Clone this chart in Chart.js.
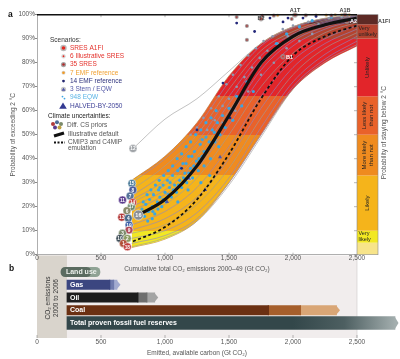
<!DOCTYPE html>
<html><head><meta charset="utf-8">
<script src="https://cdn.jsdelivr.net/npm/chart.js@4.4.1/dist/chart.umd.min.js"></script>
<style>
html,body{margin:0;padding:0;background:#fff;overflow:hidden;}
#wrap{position:relative;width:400px;height:359px;}
canvas{position:absolute;left:0;top:0;}
</style></head><body>
<div id="wrap"><canvas id="cb" width="400" height="359"></canvas><canvas id="ca" width="400" height="275"></canvas></div>
<script>
// ---------------- DATA (panel a) ----------------
const gridGt = [740, 1000, 1250, 1500, 1750, 2000, 2250, 2500];
const bandUpperP = [31, 41, 55, 74.5, 88, 95, 98.5, 99.8];
const bandLowerP = [3, 6.5, 14, 30, 50, 69, 80, 87];
const priorCurves = [
  [30, 40, 53, 72, 87, 94.5, 98, 99.5],
  [27, 37, 50, 69, 85, 93, 97.5, 99.3],
  [24.5, 34, 47, 66, 83, 92, 97, 99],
  [22.8, 31, 44, 63, 81, 91, 96.5, 98.8],
  [21.7, 29, 41, 60, 79, 90, 96, 98.5],
  [20, 27, 39, 57, 77, 89, 95, 98.2],
  [18.3, 25, 36, 54, 74, 87, 94, 97.8],
  [15.2, 21, 32, 50, 70, 84, 92.5, 96.8],
  [12.4, 18, 28, 45, 66, 81, 90, 95.5],
  [10.3, 15, 24, 40, 61, 78, 88, 94],
  [8.9, 12.5, 21, 36, 57, 75, 86, 92.5],
  [6.8, 10, 17.5, 32, 53, 72, 83.5, 91],
  [4.7, 8, 15, 30, 50, 70, 81.5, 89],
  [3.3, 7, 14, 29, 49, 69, 80.5, 87.5]
];
const prior12Gt = [750, 1000, 1250, 1500, 1750, 2000, 2250, 2500];
const prior12P = [44.2, 56.5, 65, 76.5, 88, 95, 98.5, 99.7];
const defaultGt = [790, 1000, 1250, 1500, 1750, 2000, 2250, 2500];
const illustrativeDefaultP = [16.5, 23, 37, 58, 80, 91, 95.8, 98.6];
const emulationGt = [750, 1000, 1250, 1500, 1750, 2000, 2250, 2500];
const cmip3EmulationP = [5.5, 11.5, 23, 42, 65, 83, 91, 95.5];
const eqw948 = [[800,17],[820,19],[840,16],[850,21],[870,18],[880,23],[900,20],[910,25],[920,17],[940,22],[950,27],[960,24],[975,20],[985,29],[1000,26],[1010,22],[1020,31],[1035,28],[1050,24],[1060,33],[1075,29],[1090,26],[1100,35],[1115,31],[1130,28],[1140,38],[1155,34],[1170,30],[1185,41],[1200,36],[1215,32],[1230,43],[1245,39],[1260,35],[1275,46],[1290,41],[1305,37],[1320,49],[1340,44],[1355,40],[1370,52],[1390,47],[1410,55],[1430,50],[1450,58],[1470,53],[1500,61],[1530,56],[1560,66],[1600,62],[1640,72],[1690,68],[1740,79],[1800,83],[1870,88],[1950,92],[2050,95],[2150,97.5],[2300,99],[1180,27],[1100,22],[1350,33],[900,15],[1280,30],
  [830,22],[860,25],[890,27],[925,29],[955,31],[990,33],[1025,35],[1060,37],[1095,40],[1130,42],[1165,45],[1200,47],[1240,50],[1280,52],[1320,55],[1360,57],[1400,60],[865,14],[905,18],[945,19],[985,23],[1025,25],[1065,27],[1105,29],[1145,32],[1185,34],[1225,37],[1265,40],[1305,43],[1345,47],[1385,51],[1420,45],[1120,36],[1040,30],[960,28],[1210,41],[1290,48],[1165,38]];
const otherScenarioDots = [[1200,50],[1250,53],[1300,57],[1330,52],[1360,61],[1390,56],[1420,66],[1450,62],[1480,71],[1500,65],[1530,75],[1560,70],[1590,79],[1620,74],[1650,83],[1680,78],[1710,86],[1740,82],[1770,89],[1800,85],[1840,91],[1880,88],[1920,94],[1960,91],[2000,95.5],[2060,93],[2120,97],[2200,96],[2280,98.5],[2380,99],[1400,48],[1450,55],[1550,60],[1650,68],[1750,75],[1850,80],[1950,86],[2050,89],[2150,92]];
const emf14 = [[1453,71.5],[1508,57],[1820,84],[1700,93],[1560,96.5],[1820,98.6],[1922,97],[1961,98.6],[2078,98.6],[1250,52],[1130,36],[2180,99.3]];
const emf7 = [[1880,99.7],[2016,100],[2180,99.8],[2260,99.8],[2330,99.9],[2380,99.9],[2440,99.9]];
const stern3 = [[1016,22],[1313,27],[1430,40.7]];
const halvedBy2050 = [[1180,32]];
const sres35 = [[1640,95.3],[1640,89.5],[1560,99],[1760,99.5],[1850,99.6],[2100,99.7],[2300,99.6],[1990,98.2]];
const sresNames = ['B1','B2','A1T','A1B','A2','A1FI'];
const sresGt = [1922, 1750, 2016, 2406, 2422, 2703];
const sresP = [82.5, 98.3, 99.9, 99.9, 97.3, 99.8];
const circleIds = ['15','8','7','11','14','17','6','16','13','4','19','9','3','10','2','1','18','12'];
const circleGt = [741, 749, 727, 668, 747, 737, 703, 792, 662, 713, 719, 719, 668, 648, 706, 675, 706, 750];
const circleP = [29.7, 27, 24.5, 22.8, 21.7, 20, 18.3, 16.5, 15.6, 15.2, 12.4, 10.3, 8.9, 6.8, 6.8, 4.7, 3.3, 44.2];
const likelihoodEdges = [0, 5, 10, 33, 50, 66, 90, 96, 100];
const likelihoodNames = ['', 'Very likely', 'Likely', 'More likely than not', 'Less likely than not', 'Unlikely', 'Very unlikely', ''];
const legendScenarios = ['SRES A1FI','6 Illustrative SRES','35 SRES','7 EMF reference','14 EMF reference','3 Stern / EQW','948 EQW','HALVED-BY-2050'];
const legendClimate = ['Diff. CS priors','Illustrative default','CMIP3 and C4MIP','emulation'];
// ---------------- DATA (panel b) ----------------
const barCats = ['Land use','Gas','Oil','Coal','Total proven fossil fuel reserves'];
const barDark = [[187,420],[234,570],[234,790],[234,1810],null];
const barMid = [null,[565,600],[785,860],[1805,2060],null];
const barLight = [[380,492],[595,625],[855,920],[2055,2340],null];
const barTotal = [null,null,null,null,[234,2797]];
const emitted2000to2006 = 234;

// ---------------- STYLE ----------------
const FONT = '"Liberation Sans", Arial, sans-serif';
Chart.defaults.font.family = FONT;
Chart.defaults.font.size = 6.5;
Chart.defaults.color = '#555';
const likelihoodColors = ['#f7e48a','#f2e823','#f5b41b','#ef8b1f','#e9622a','#e2252a','#b4432f','#5d2a25'];
const bandFill = ['#f3e31f','#f2e823','#f5b41b','#ef8b1f','#e9622a','#e2252a','#b4432f','#6a2a24'];
const circleColors = ['#4d7c99','#4a5c9c','#56739a','#5b3c8e','#c23a3a','#6f8b6f','#8a8a6a','#8a8f95','#b33838','#4a6a8a','#3d5fa6','#b04a5a','#7a8a6a','#3e4d57','#8a9a60','#b0503a','#c03c3c','#a0a4a8'];

const xy = (gx, py) => gx.map((g,i)=>({x:g,y:py[i]}));
const pr = arr => arr.map(p=>({x:p[0],y:p[1]}));

function bandGradient(c){
  const ch=c.chart;
  if(!ch.chartArea || !ch.scales.y) return 'rgba(0,0,0,0)';
  const ys=ch.scales.y, top=ys.getPixelForValue(100), bot=ys.getPixelForValue(0);
  const g=ch.ctx.createLinearGradient(0,top,0,bot);
  for(let i=bandFill.length-1;i>=0;i--){
    const o1=(ys.getPixelForValue(likelihoodEdges[i+1])-top)/(bot-top);
    const o0=(ys.getPixelForValue(likelihoodEdges[i])-top)/(bot-top);
    g.addColorStop(Math.max(0,Math.min(1,o1)), bandFill[i]);
    g.addColorStop(Math.max(0,Math.min(1,o0)), bandFill[i]);
  }
  return g;
}

const lineBase = {pointRadius:0, fill:false, cubicInterpolationMode:'monotone'};
const dsA = [];
dsA.push({...lineBase, label:'band lower', data:xy(gridGt,bandLowerP), borderColor:'#b97a45', borderWidth:0.7, order:30});
dsA.push({...lineBase, label:'band upper', data:xy(gridGt,bandUpperP), borderColor:'#b97a45', borderWidth:0.7, fill:'-1', backgroundColor:bandGradient, order:29});
priorCurves.forEach((c,i)=>dsA.push({...lineBase, label:'CS prior '+(i+1), data:xy(gridGt,c), borderColor: i%3===1?'#9d9d9d':'#8f87c6', borderWidth:0.6, order:25}));
dsA.push({...lineBase, label:'CS prior 12', data:xy(prior12Gt,prior12P), borderColor:'#a8a8a8', borderWidth:0.7, order:25});
dsA.push({label:'other scenarios', data:pr(otherScenarioDots), showLine:false, pointRadius:1.3, pointBorderWidth:0, backgroundColor:'#8e9bb0', order:14});
dsA.push({label:'948 EQW', data:pr(eqw948), showLine:false, pointRadius:1.6, pointBorderWidth:0, backgroundColor:'#3aa6e2', order:13});
dsA.push({label:'14 EMF reference', data:pr(emf14), showLine:false, pointRadius:1.4, pointBorderWidth:0, backgroundColor:'#24287a', order:10});
dsA.push({label:'7 EMF reference', data:pr(emf7), showLine:false, pointRadius:1.4, pointBorderWidth:0.8, borderColor:'rgba(210,210,210,0.8)', backgroundColor:'#f29a22', order:10, clip:false});
dsA.push({label:'3 Stern / EQW', data:pr(stern3), showLine:false, pointStyle:'triangle', pointRadius:2.3, pointBorderWidth:0, backgroundColor:'#4e55a8', order:10});
dsA.push({label:'HALVED-BY-2050', data:pr(halvedBy2050), showLine:false, pointStyle:'triangle', pointRadius:4, pointBorderWidth:0.6, borderColor:'#c8c8e0', backgroundColor:'#5a5fb0', order:9});
dsA.push({label:'35 SRES', data:pr(sres35), showLine:false, pointRadius:1.4, pointBorderWidth:1.4, borderColor:'rgba(150,150,150,0.75)', backgroundColor:'#b52a2a', order:9, clip:false});
dsA.push({...lineBase, label:'Illustrative default', data:xy(defaultGt,illustrativeDefaultP), borderColor:'#111', borderWidth:3.2, order:3});
dsA.push({...lineBase, label:'CMIP3 and C4MIP emulation', data:xy(emulationGt,cmip3EmulationP), borderColor:'#111', borderWidth:1.8, borderDash:[3,2.5], order:2});
const IDX_SRES = dsA.push({label:'Illustrative SRES', data:xy(sresGt,sresP), showLine:false, pointRadius:sresNames.map(n=>n==='A1FI'?2:1.8), pointBorderWidth:1.8, borderColor:'rgba(150,150,150,0.7)', backgroundColor:'#e4312b', order:4, clip:false}) - 1;
const IDX_CIRC = dsA.push({label:'Diff. CS priors', data:xy(circleGt,circleP), showLine:false, pointRadius:circleIds.map(id=>id==='16'?5:4), pointBorderWidth:0.5, borderColor:'#ffffff', backgroundColor:circleColors, order:1, clip:false}) - 1;

function dot(ctx,x,y,r,c){ctx.fillStyle=c;ctx.beginPath();ctx.arc(x,y,r,0,Math.PI*2);ctx.fill();}
function tri(ctx,x,y,s,c){ctx.fillStyle=c;ctx.beginPath();ctx.moveTo(x,y-s);ctx.lineTo(x+s*0.95,y+s*0.6);ctx.lineTo(x-s*0.95,y+s*0.6);ctx.closePath();ctx.fill();}

const sresLabelStyle = {
  B1:{dx:3,dy:0.5,c:'#fff',a:'left'}, B2:{dx:0,dy:-0.5,c:'#444',a:'center'}, A1T:{dx:0,dy:-4,c:'#444',a:'center'},
  A1B:{dx:0,dy:-4,c:'#444',a:'center'}, A2:{dx:3,dy:0.5,c:'#fff',a:'left'}, A1FI:{dx:1,dy:6,c:'#444',a:'center'}
};

const panelA = {
  id:'panelA',
  afterDatasetsDraw(chart){
    const ctx=chart.ctx;
    ctx.save();
    ctx.textBaseline='middle';
    chart.getDatasetMeta(IDX_CIRC).data.forEach((p,i)=>{
      ctx.fillStyle='#fff'; ctx.textAlign='center';
      ctx.font='bold '+(circleIds[i]==='16'?5.5:4.8)+'px '+FONT;
      ctx.fillText(circleIds[i],p.x,p.y+0.4);
    });
    chart.getDatasetMeta(IDX_SRES).data.forEach((p,i)=>{
      const s=sresLabelStyle[sresNames[i]];
      ctx.fillStyle=s.c; ctx.textAlign=s.a; ctx.font='bold 5.5px '+FONT;
      ctx.fillText(sresNames[i],p.x+s.dx,p.y+s.dy);
    });
    ctx.restore();
  },
  afterDraw(chart){
    const ctx=chart.ctx, xs=chart.scales.x, ys=chart.scales.y;
    ctx.save();
    const bx=xs.right, bw=21;
    for(let i=0;i<likelihoodColors.length;i++){
      const y1=ys.getPixelForValue(likelihoodEdges[i+1]), y0=ys.getPixelForValue(likelihoodEdges[i]);
      ctx.fillStyle=likelihoodColors[i]; ctx.fillRect(bx,y1,bw,y0-y1);
    }
    ctx.strokeStyle='#8a8a8a'; ctx.lineWidth=0.6; ctx.strokeRect(bx,ys.top,bw,ys.bottom-ys.top);
    ctx.fillStyle='#222';
    likelihoodNames.forEach((name,i)=>{
      if(!name) return;
      const y1=ys.getPixelForValue(likelihoodEdges[i+1]), y0=ys.getPixelForValue(likelihoodEdges[i]);
      const ym=(y0+y1)/2;
      if(name==='Very likely' || name==='Very unlikely'){
        const w=name.split(' ');
        ctx.font='5.5px '+FONT; ctx.textAlign='left'; ctx.textBaseline='middle';
        ctx.fillText(w[0],bx+1.5,ym-3); ctx.fillText(w[1],bx+1.5,ym+3);
      } else {
        let lines=[name];
        if(name.endsWith('than not')) lines=[name.replace(' than not',''),'than not'];
        ctx.save(); ctx.translate(bx+bw/2,ym); ctx.rotate(-Math.PI/2);
        ctx.font='6px '+FONT; ctx.textAlign='center'; ctx.textBaseline='middle';
        if(lines.length===1) ctx.fillText(lines[0],0,0);
        else { ctx.fillText(lines[0],0,-3.5); ctx.fillText(lines[1],0,3.5); }
        ctx.restore();
      }
    });
    ctx.strokeStyle='#888'; ctx.lineWidth=0.6;
    for(let v=0; v<=100; v+=10){ const y=ys.getPixelForValue(v); ctx.beginPath(); ctx.moveTo(bx-3,y); ctx.lineTo(bx,y); ctx.stroke(); }
    for(let g=500; g<2500; g+=500){ const x=xs.getPixelForValue(g); ctx.beginPath(); ctx.moveTo(x,ys.bottom); ctx.lineTo(x,ys.bottom-2); ctx.stroke(); ctx.beginPath(); ctx.moveTo(x,ys.top); ctx.lineTo(x,ys.top+2.5); ctx.stroke(); }
    ctx.strokeStyle='#111'; ctx.lineWidth=1.6; ctx.beginPath(); ctx.moveTo(xs.left,ys.top); ctx.lineTo(xs.right,ys.top); ctx.stroke();
    ctx.save(); ctx.translate(384,(ys.top+ys.bottom)/2-2); ctx.rotate(-Math.PI/2);
    ctx.font='6.5px '+FONT; ctx.fillStyle='#555'; ctx.textAlign='center'; ctx.textBaseline='middle';
    ctx.fillText('Probability of staying below 2 °C',0,0); ctx.restore();
    ctx.font='bold 8.5px '+FONT; ctx.fillStyle='#111'; ctx.textAlign='left'; ctx.textBaseline='middle';
    ctx.fillText('a',8,14.5);
    ctx.font='6.5px '+FONT; ctx.textBaseline='middle';
    ctx.fillStyle='#333'; ctx.fillText('Scenarios:',50,40.5);
    const legColors=['#e4312b','#e4312b','#e4312b','#f0a030','#2b2f7a','#555aa8','#5ab4e6','#3c3f96'];
    legendScenarios.forEach((t,i)=>{
      const y=48+i*8.27, x=63.5;
      if(i===0){dot(ctx,x,y,3.2,'rgba(140,140,140,0.6)');dot(ctx,x,y,1.8,'#e52a22');}
      else if(i===1){dot(ctx,x,y,2.2,'#d8d8d8');dot(ctx,x,y,0.9,'#e52a22');}
      else if(i===2){dot(ctx,x,y,2.6,'#a5a5a5');dot(ctx,x,y,1.3,'#b22a2a');}
      else if(i===3){dot(ctx,x,y,2,'#d5d5d5');dot(ctx,x,y,1.3,'#f29a22');}
      else if(i===4){dot(ctx,x,y,1.4,'#22266e');}
      else if(i===5){dot(ctx,x,y,2.6,'#c8c8c8');tri(ctx,x,y+0.3,2,'#4e55a8');}
      else if(i===6){dot(ctx,x-1,y-1,0.9,'#3fa7e3');dot(ctx,x+1,y+1,0.9,'#3fa7e3');}
      else {tri(ctx,x-0.5,y+0.5,4,'#343a92');}
      ctx.fillStyle=legColors[i]; ctx.fillText(t,70,y);
    });
    ctx.fillStyle='#222'; ctx.fillText('Climate uncertainties:',48,116);
    [[53,124,'#b23a3a'],[57,122.3,'#4d6a96'],[61,124,'#7a8a6a'],[55,127.6,'#5b3c8e'],[59.5,127.6,'#c0a040']].forEach(c=>dot(ctx,c[0],c[1],2,c[2]));
    ctx.strokeStyle='#111'; ctx.lineWidth=3; ctx.beginPath(); ctx.moveTo(54,136); ctx.lineTo(64,133); ctx.stroke();
    ctx.lineWidth=1.8; ctx.setLineDash([2,1.5]); ctx.beginPath(); ctx.moveTo(54,142.5); ctx.lineTo(65,142.5); ctx.stroke(); ctx.setLineDash([]);
    ctx.fillStyle='#555';
    ctx.fillText(legendClimate[0],67,125.5);
    ctx.fillText(legendClimate[1],68,134.5);
    ctx.fillText(legendClimate[2],68,142.3);
    ctx.fillText(legendClimate[3],68,148);
    ctx.restore();
  }
};

new Chart(document.getElementById('ca'), {
  type:'line',
  data:{datasets:dsA},
  options:{
    responsive:false, animation:false, devicePixelRatio:1, events:[],
    layout:{padding:{left:0,right:43,top:14.7,bottom:0}},
    plugins:{legend:{display:false}, tooltip:{enabled:false}},
    scales:{
      x:{type:'linear',min:0,max:2500,
        ticks:{stepSize:500,padding:0,color:'#555',maxRotation:0,callback:v=>v.toLocaleString('en-US')},
        grid:{display:false,drawTicks:false},
        border:{display:true,color:'#9a9a9a',width:0.8},
        title:{display:true,text:'Cumulative total CO₂ emissions 2000–49 (Gt CO₂)',color:'#555',padding:{top:0,bottom:2.3}},
        afterFit:s=>{s.height=20.3;}},
      y:{type:'linear',min:0,max:100,
        ticks:{stepSize:10,padding:0,color:'#555',callback:v=>v+'%'},
        grid:{display:true,drawOnChartArea:false,drawTicks:true,tickLength:2,color:'#888'},
        border:{display:true,color:'#9a9a9a',width:0.8},
        title:{display:true,text:'Probability of exceeding 2 °C',color:'#555',padding:{top:9,bottom:0}},
        afterFit:s=>{s.width=37;}}
    }
  },
  plugins:[panelA]
});

// ---------------- PANEL B ----------------
const darkColors=['#5a6b60','#3b4680','#1d1d1d','#6b3012',null];
const midColors=[null,'#6f7aad','#6e6e6e','#a65f2c',null];
const lightColors=['#8fa294','#a3abd0','#a4a4a4','#d9a676',null];
function totalGradient(c){
  const ch=c.chart;
  if(!ch.chartArea || !ch.scales.x) return '#34484a';
  const xs=ch.scales.x;
  const g=ch.ctx.createLinearGradient(xs.getPixelForValue(2000),0,xs.getPixelForValue(2800),0);
  g.addColorStop(0,'#33474a'); g.addColorStop(0.5,'#4d5f61'); g.addColorStop(1,'#a3aeae');
  return g;
}
const landRadius = c => c.dataIndex===0 ? 4.5 : 0;
const dsB=[
  {label:'emitted',data:barDark,backgroundColor:darkColors,barThickness:9.5,grouped:false,borderSkipped:false,borderRadius:landRadius,order:1},
  {label:'mid',data:barMid,backgroundColor:midColors,barThickness:9.5,grouped:false,borderSkipped:false,order:2},
  {label:'available',data:barLight,backgroundColor:lightColors,barThickness:9.5,grouped:false,borderSkipped:false,borderRadius:landRadius,order:3},
  {label:'Total proven fossil fuel reserves',data:barTotal,backgroundColor:totalGradient,barThickness:13,grouped:false,borderSkipped:false,order:4,clip:false}
];
const panelB = {
  id:'panelB',
  beforeDatasetsDraw(chart){
    const ctx=chart.ctx, xs=chart.scales.x;
    const x0=xs.getPixelForValue(0), xe=xs.getPixelForValue(emitted2000to2006), x1=xs.getPixelForValue(2500);
    ctx.save();
    ctx.fillStyle='#f1eded'; ctx.fillRect(x0,255.5,x1-x0,82.5);
    ctx.fillStyle='#d9d4cc'; ctx.fillRect(x0,255.5,xe-x0,82.5);
    ctx.strokeStyle='#cfcaca'; ctx.lineWidth=0.6; ctx.beginPath(); ctx.moveTo(x1,255.5); ctx.lineTo(x1,338); ctx.stroke();
    ctx.translate((x0+xe)/2,298); ctx.rotate(-Math.PI/2);
    ctx.font='6.5px '+FONT; ctx.fillStyle='#333'; ctx.textAlign='center'; ctx.textBaseline='middle';
    ctx.fillText('CO₂ emissions',0,-4); ctx.fillText('2000 to 2006',0,4);
    ctx.restore();
  },
  afterDatasetsDraw(chart){
    const ctx=chart.ctx, xs=chart.scales.x, yc=chart.scales.y;
    ctx.save();
    [[2,lightColors],[3,null]].forEach(([di,cols])=>{
      chart.getDatasetMeta(di).data.forEach((el,i)=>{
        const v=chart.data.datasets[di].data[i]; if(!v || i===0) return;
        const h=el.height, x=el.x, y=el.y;
        ctx.fillStyle= cols ? cols[i] : '#a3aeae';
        ctx.beginPath(); ctx.moveTo(x-0.5,y-h/2); ctx.lineTo(x+3.5,y); ctx.lineTo(x-0.5,y+h/2); ctx.closePath(); ctx.fill();
      });
    });
    ctx.font='bold 7px '+FONT; ctx.textBaseline='middle'; ctx.textAlign='left';
    barCats.forEach((c,i)=>{
      const y=yc.getPixelForValue(i);
      const x = i===0 ? xs.getPixelForValue(barDark[0][0])+5 : xs.getPixelForValue(emitted2000to2006)+3;
      ctx.fillStyle = i===0 ? '#eef2ee' : '#ffffff';
      ctx.fillText(c,x,y+0.3);
    });
    ctx.restore();
  },
  afterDraw(chart){
    const ctx=chart.ctx, xs=chart.scales.x;
    ctx.save();
    ctx.strokeStyle='#888'; ctx.lineWidth=0.6;
    for(let g=0; g<=2500; g+=500){ const x=xs.getPixelForValue(g); ctx.beginPath(); ctx.moveTo(x,335); ctx.lineTo(x,338); ctx.stroke(); }
    ctx.font='bold 8.5px '+FONT; ctx.fillStyle='#111'; ctx.textBaseline='middle'; ctx.fillText('b',9,268.5);
    ctx.restore();
  }
};
new Chart(document.getElementById('cb'), {
  type:'bar',
  data:{labels:barCats, datasets:dsB},
  options:{
    indexAxis:'y', responsive:false, animation:false, devicePixelRatio:1, events:[],
    layout:{padding:{left:0,right:43,top:265.6,bottom:0}},
    plugins:{legend:{display:false}, tooltip:{enabled:false}},
    scales:{
      x:{type:'linear',min:0,max:2500,
        ticks:{stepSize:500,padding:8.7,color:'#555',maxRotation:0,callback:v=>v.toLocaleString('en-US')},
        grid:{display:false,drawTicks:false}, border:{display:false},
        title:{display:true,text:'Emitted, available carbon (Gt CO₂)',color:'#555',padding:{top:0,bottom:2.3}},
        afterFit:s=>{s.height=29.6;}},
      y:{type:'category', ticks:{display:false}, grid:{display:false,drawTicks:false}, border:{display:false},
        afterFit:s=>{s.width=37;}}
    }
  },
  plugins:[panelB]
});
</script></body></html>
